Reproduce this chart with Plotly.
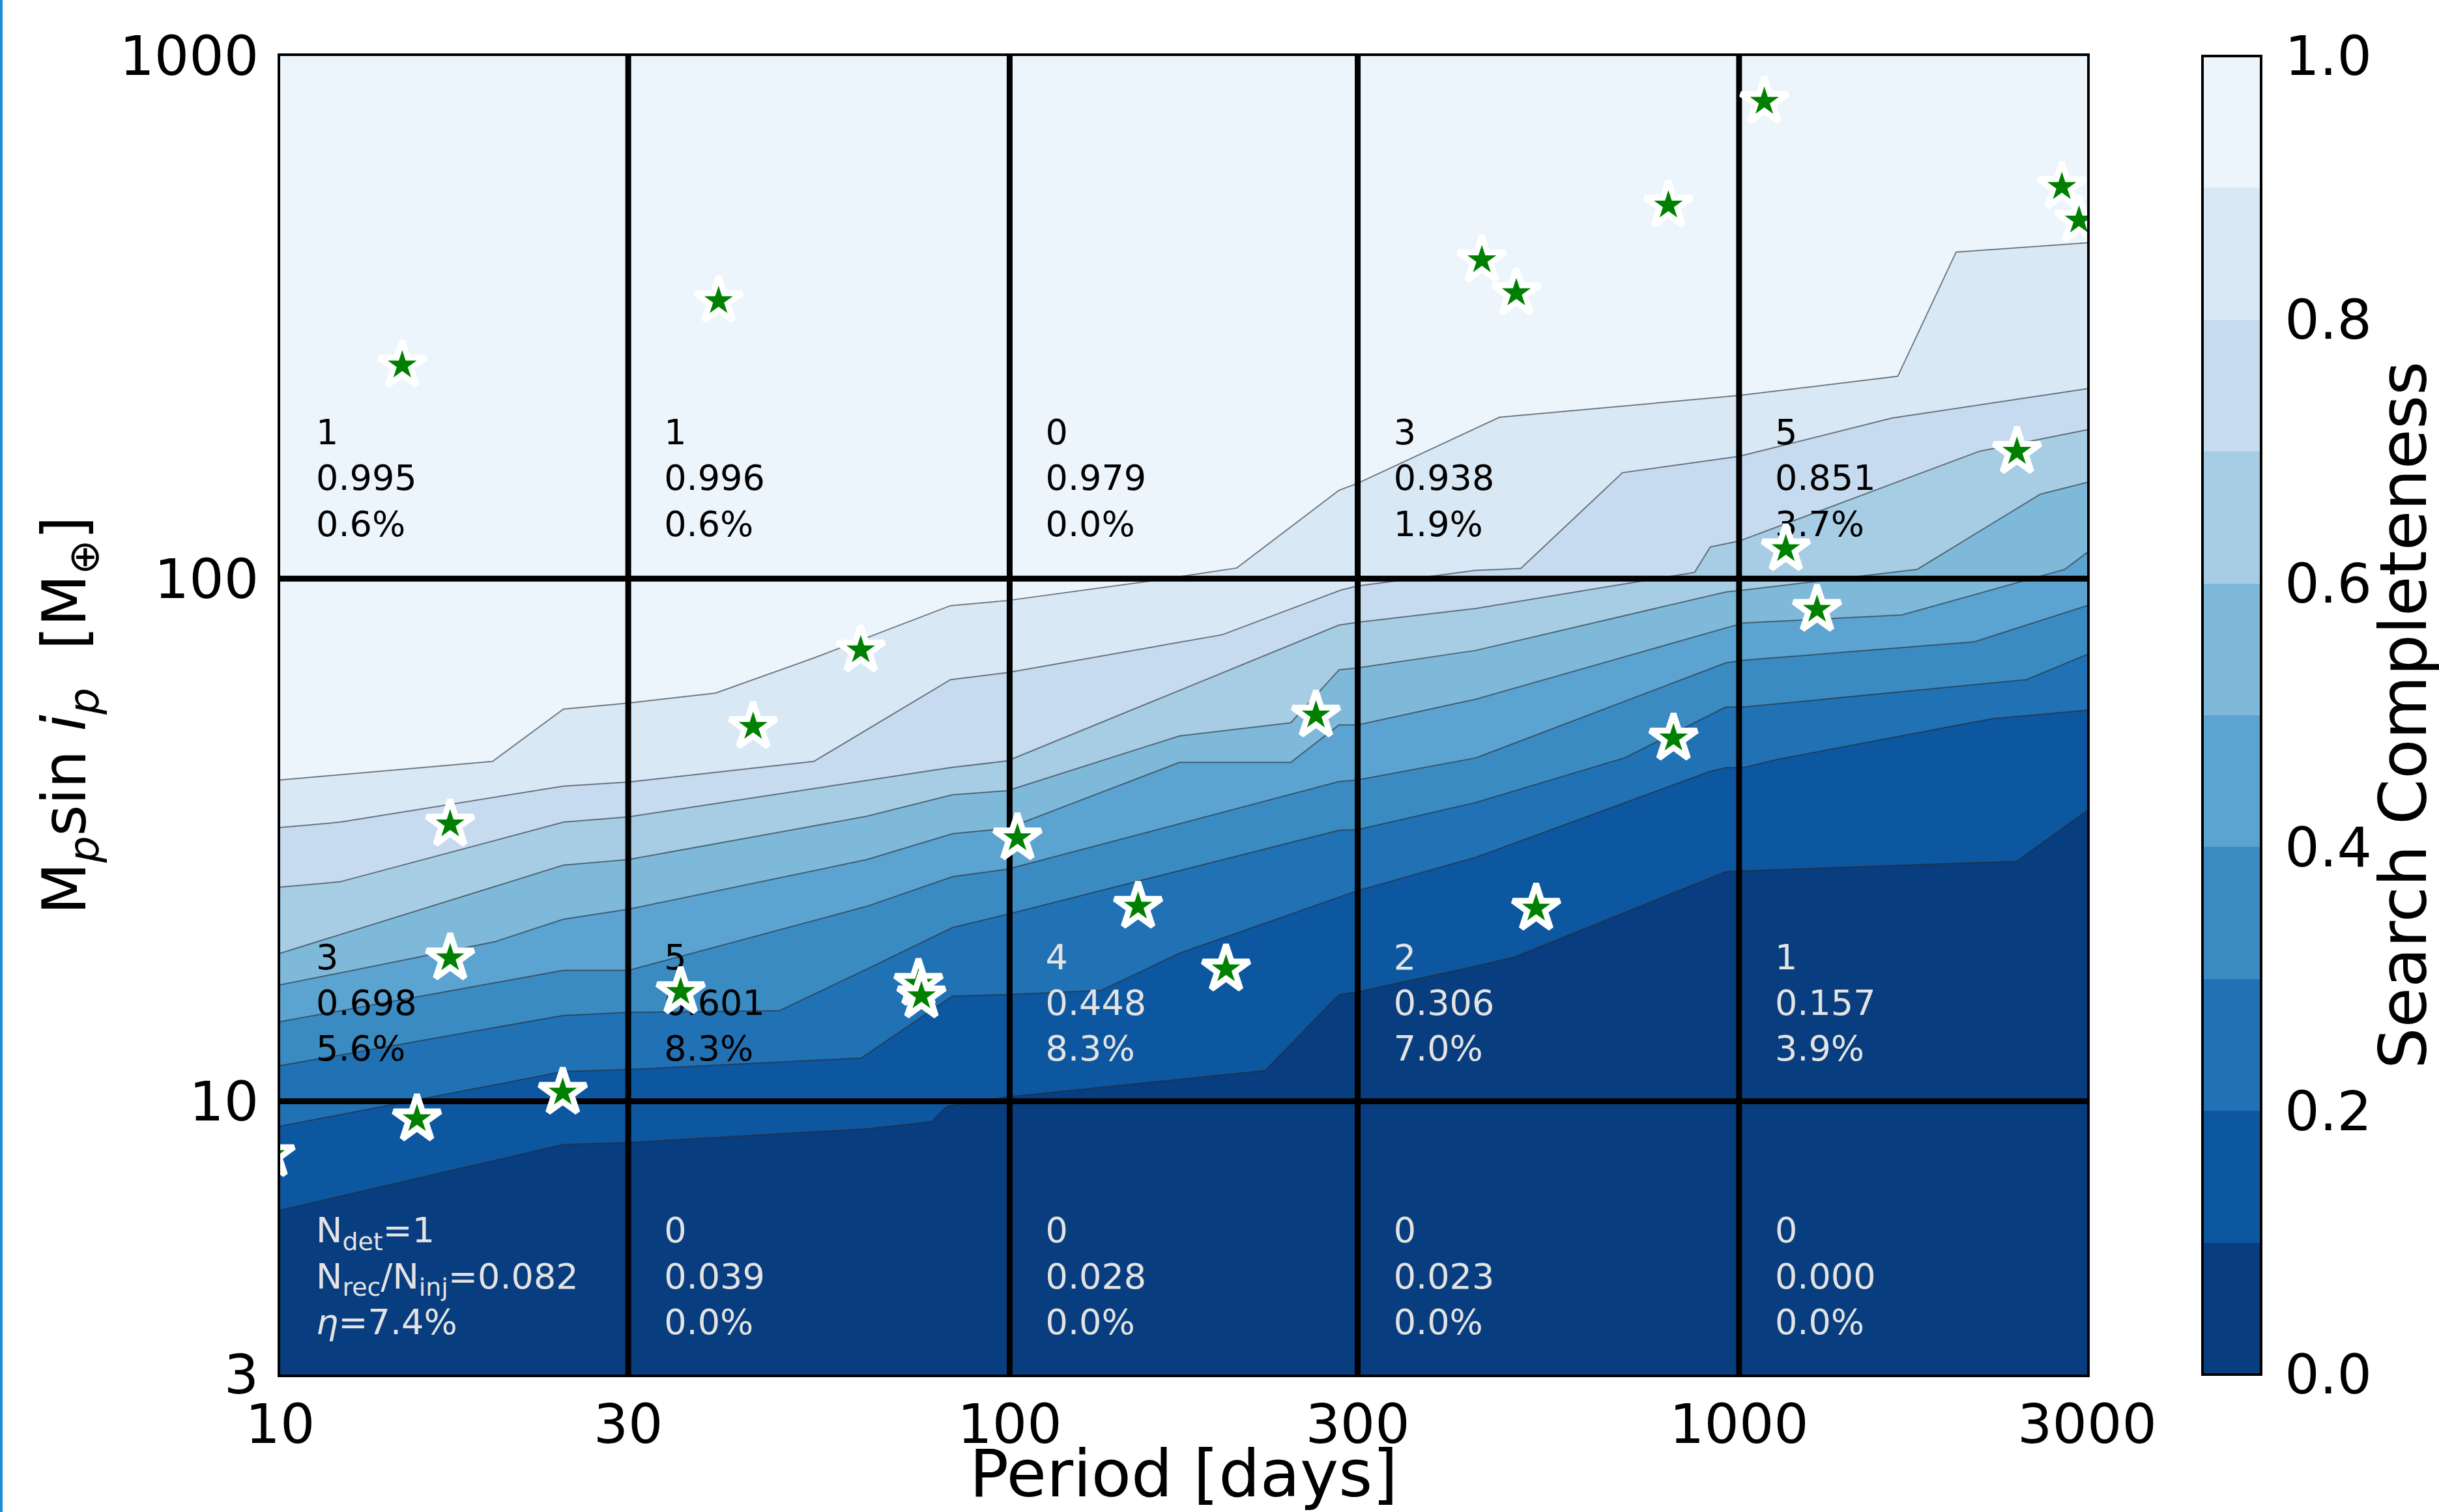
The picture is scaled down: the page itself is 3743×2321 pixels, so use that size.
import math
import plotly.graph_objects as go

# ---------------- data ----------------
period_bins = [10, 30, 100, 300, 1000, 3000]
mass_bins = [3, 10, 100, 1000]
completeness_levels = [0.0, 0.1, 0.2, 0.3, 0.4, 0.5, 0.6, 0.7, 0.8, 0.9, 1.0]
band_colors = ["#083D7F", "#0D57A1", "#2171B5", "#3B8BC3", "#5BA3D0",
               "#7FB9DA", "#A6CDE4", "#C6DBEF", "#D9E8F5", "#EDF5FC"]

# contour lines (period [days], mass [M_earth])
lvl_01_period = [10, 24.45, 30, 63.7, 78.1, 82.0, 99.3, 224, 282.8, 300, 440, 492.9, 959, 1014.6, 2403, 3000]
lvl_01_mass = [6.19, 8.27, 8.34, 8.86, 9.14, 9.78, 10.2, 11.45, 16.0, 16.2, 18.2, 18.9, 27.5, 27.6, 28.8, 36.0]

lvl_02_period = [10, 24.45, 30, 62.6, 83.5, 99.3, 133.5, 170.9, 300, 435.6, 913.3, 959, 1014.6, 1127, 2230, 3000]
lvl_02_mass = [8.96, 11.4, 11.5, 12.1, 15.9, 16.0, 16.3, 19.2, 25.3, 29.3, 42.8, 43.5, 43.5, 45.1, 54.0, 56.0]

lvl_03_period = [10, 24.45, 30, 48.3, 63.7, 83.5, 99.3, 282.8, 300, 435.6, 696.4, 959, 1014.6, 2477, 3000]
lvl_03_mass = [11.7, 14.6, 14.8, 14.9, 17.9, 21.5, 22.8, 33.0, 33.1, 37.3, 45.4, 56.8, 56.8, 64.1, 71.6]

lvl_04_period = [10, 24.45, 30, 63.7, 83.5, 99.3, 282.8, 300, 435.6, 959, 1014.6, 2101, 3000]
lvl_04_mass = [14.2, 17.8, 17.8, 23.6, 26.9, 27.8, 40.9, 41.2, 45.4, 69.0, 69.8, 75.7, 88.8]

lvl_05_period = [10, 19.7, 24.45, 30, 63.7, 83.5, 99.3, 170.9, 242.9, 282.8, 300, 435.6, 1014.6, 1671, 2797, 3000]
lvl_05_mass = [16.7, 20.2, 22.3, 23.3, 29.0, 32.5, 33.3, 44.5, 44.5, 52.5, 52.5, 58.8, 82.3, 85.2, 104.2, 112.2]

lvl_06_period = [10, 24.45, 30, 63.7, 83.5, 99.3, 170.9, 242.9, 282.8, 300, 435.6, 959, 1014.6, 1755, 2586, 3000]
lvl_06_mass = [19.2, 28.3, 29.0, 35.1, 38.6, 39.3, 50.0, 53.0, 66.9, 67.5, 72.9, 94.3, 95.1, 104.2, 145.0, 152.8]

lvl_07_period = [10, 12.08, 24.45, 30, 83.0, 99.3, 282.8, 300, 435.6, 869, 913, 1000, 2136, 3000]
lvl_07_mass = [25.7, 26.3, 34.2, 35.0, 43.5, 44.8, 81.5, 82.5, 87.7, 102.8, 115.0, 118.0, 175.3, 192.7]

lvl_08_period = [10, 12.08, 24.45, 30, 53.9, 83.0, 99.3, 195.6, 284.6, 300, 435.6, 502.1, 692.1, 1000, 1620, 3000]
lvl_08_mass = [33.4, 34.2, 40.1, 40.8, 44.7, 64.1, 66.1, 78.1, 95.1, 96.8, 103.7, 104.6, 159.5, 171.4, 202.9, 230.9]

lvl_09_period = [10, 19.55, 24.45, 30, 39.5, 53.9, 83.0, 99.3, 158.7, 204.8, 282.8, 300, 469.2, 1000, 1650, 1984, 3000]
lvl_09_mass = [41.2, 44.7, 56.3, 57.8, 60.4, 70.5, 88.8, 90.8, 99.3, 104.8, 147.6, 152.2, 203.6, 224.1, 243.9, 421.6, 439]

# detected planets
planet_period = [14.7, 39.9, 17.1, 17.1, 15.4, 24.4, 9.7, 35.4, 44.5, 62.5, 75.0, 75.7, 102.5,
                 150, 198, 263, 444, 495, 800, 527, 813, 1083, 1159, 1279, 2404, 2770, 2924]
planet_mass = [256, 340, 33.9, 18.8, 9.25, 10.4, 7.9, 16.2, 52.1, 73.0, 16.8, 15.9, 31.9,
               23.6, 17.9, 54.8, 407, 352, 518, 23.4, 49.5, 818, 114, 87.3, 175, 562, 485]

# per-cell statistics, rows from low mass to high mass
n_det = [[1, 0, 0, 0, 0],
         [3, 5, 4, 2, 1],
         [1, 1, 0, 3, 5]]
recovered_frac = [[0.082, 0.039, 0.028, 0.023, 0.000],
                  [0.698, 0.601, 0.448, 0.306, 0.157],
                  [0.995, 0.996, 0.979, 0.938, 0.851]]
occurrence_pct = [[7.4, 0.0, 0.0, 0.0, 0.0],
                  [5.6, 8.3, 8.3, 7.0, 3.9],
                  [0.6, 0.6, 0.0, 1.9, 3.7]]

# ---------------- figure ----------------
FONT = "DejaVu Sans"
W, H = 3743, 2321
ML, MR, MT, MB = 430, 540, 86, 211
PW, PH = W - ML - MR, H - MT - MB

contours = [
    (lvl_01_period, lvl_01_mass), (lvl_02_period, lvl_02_mass), (lvl_03_period, lvl_03_mass),
    (lvl_04_period, lvl_04_mass), (lvl_05_period, lvl_05_mass), (lvl_06_period, lvl_06_mass),
    (lvl_07_period, lvl_07_mass), (lvl_08_period, lvl_08_mass), (lvl_09_period, lvl_09_mass),
]

fig = go.Figure()

pmin, pmax = period_bins[0], period_bins[-1]
mmin, mmax = mass_bins[0], mass_bins[-1]

# lower boundary of the filled region
fig.add_trace(go.Scatter(x=[pmin, pmax], y=[mmin, mmin], mode="lines",
                         line=dict(width=0, color="rgba(0,0,0,0)"),
                         hoverinfo="skip", showlegend=False))
for i, (p, m) in enumerate(contours):
    fig.add_trace(go.Scatter(x=p, y=m, mode="lines",
                             line=dict(color="rgba(40,40,40,0.55)", width=2),
                             fill="tonexty", fillcolor=band_colors[i],
                             hoverinfo="skip", showlegend=False))
fig.add_trace(go.Scatter(x=[pmin, pmax], y=[mmax, mmax], mode="lines",
                         line=dict(width=0, color="rgba(0,0,0,0)"),
                         fill="tonexty", fillcolor=band_colors[-1],
                         hoverinfo="skip", showlegend=False))

# bin grid
for p in period_bins[1:-1]:
    fig.add_trace(go.Scatter(x=[p, p], y=[mmin, mmax], mode="lines",
                             line=dict(color="black", width=9),
                             hoverinfo="skip", showlegend=False))
for m in mass_bins[1:-1]:
    fig.add_trace(go.Scatter(x=[pmin, pmax], y=[m, m], mode="lines",
                             line=dict(color="black", width=9),
                             hoverinfo="skip", showlegend=False))

# cell texts
tx, ty, tt, tc = [], [], [], []
for r in range(len(mass_bins) - 1):
    for c in range(len(period_bins) - 1):
        x = period_bins[c] * 1.12
        y = mass_bins[r] * (1.52 if r < 2 else 1.535)
        if r == 0 and c == 0:
            s = ("N<sub>det</sub>=%d<br>N<sub>rec</sub>/N<sub>inj</sub>=%.3f<br><i>η</i>=%.1f%%"
                 % (n_det[r][c], recovered_frac[r][c], occurrence_pct[r][c]))
        else:
            s = "%d<br>%.3f<br>%.1f%%" % (n_det[r][c], recovered_frac[r][c], occurrence_pct[r][c])
        tx.append(x)
        ty.append(y)
        tt.append(s)
        tc.append("black" if recovered_frac[r][c] >= 0.5 else "#E3E3E3")
fig.add_trace(go.Scatter(x=tx, y=ty, text=tt, mode="text", textposition="middle right",
                         textfont=dict(family=FONT, size=54, color=tc),
                         hoverinfo="skip", showlegend=False))

# planets
fig.add_trace(go.Scatter(x=planet_period, y=planet_mass, mode="markers",
                         marker=dict(symbol="star", size=54, color="green",
                                     line=dict(color="white", width=9)),
                         hoverinfo="skip", showlegend=False))

# colorbar
CB_LEFT, CB_THICK = 3380, 90
cscale = []
for i, col in enumerate(band_colors):
    cscale.append([completeness_levels[i], col])
    cscale.append([completeness_levels[i + 1], col])
fig.add_trace(go.Scatter(
    x=[None], y=[None], mode="markers", hoverinfo="skip", showlegend=False,
    marker=dict(color=[0.5], cmin=0, cmax=1, colorscale=cscale, showscale=True,
                colorbar=dict(
                    x=(CB_LEFT - ML) / PW, xanchor="left", xref="paper",
                    y=0.5, yanchor="middle", len=1.0, lenmode="fraction",
                    thickness=CB_THICK, xpad=0, ypad=0,
                    outlinewidth=4, outlinecolor="black",
                    tickvals=completeness_levels[::2],
                    ticktext=["%.1f" % v for v in completeness_levels[::2]],
                    ticks="outside", ticklen=18, tickwidth=2, tickcolor="rgba(255,255,255,0)",
                    tickfont=dict(family=FONT, size=84, color="black"),
                ))))

# small inside ticks on the colour bar (as in the reference)
cb_x1 = (CB_LEFT + CB_THICK - ML) / PW
cb_x0 = cb_x1 - 14 / PW
cb_shapes = [dict(type="line", xref="paper", yref="paper", x0=cb_x0, x1=cb_x1, y0=v, y1=v,
                  line=dict(color="black", width=2), layer="above")
             for v in completeness_levels[2:-1:2]]

fig.update_layout(
    width=W, height=H,
    margin=dict(l=ML, r=MR, t=MT, b=MB, pad=0, autoexpand=False),
    paper_bgcolor="white", plot_bgcolor=band_colors[0],
    font=dict(family=FONT, color="black"),
    showlegend=False,
    xaxis=dict(type="log", range=[math.log10(pmin), math.log10(pmax)],
               tickvals=period_bins, ticktext=[str(v) for v in period_bins],
               tickfont=dict(family=FONT, size=84, color="black"),
               ticks="", showgrid=False, zeroline=False,
               showline=True, mirror=True, linecolor="black", linewidth=4,
               title=dict(text="Period [days]", font=dict(family=FONT, size=100, color="black"),
                          standoff=12)),
    yaxis=dict(type="log", range=[math.log10(mmin), math.log10(mmax)],
               tickvals=mass_bins, ticktext=[str(v) for v in mass_bins],
               tickfont=dict(family=FONT, size=84, color="black"),
               ticks="", ticklabelstandoff=12, showgrid=False, zeroline=False,
               showline=True, mirror=True, linecolor="black", linewidth=4,
               title=dict(text="M<sub><i>p</i></sub>sin <i>i</i><sub><i>p</i></sub>  [M<sub>⊕</sub>]",
                          font=dict(family=FONT, size=92, color="black"), standoff=22)),
    annotations=[dict(text="Search Completeness", textangle=-90, showarrow=False,
                      xref="paper", yref="paper", x=(3688 - ML) / PW, y=0.5,
                      xanchor="center", yanchor="middle",
                      font=dict(family=FONT, size=100, color="black"))],
    shapes=[dict(type="rect", xref="paper", yref="paper",
                 x0=-ML / PW, x1=(-ML + 4) / PW,
                 y0=-MB / PH, y1=(H - MB) / PH,
                 fillcolor="#1B8FD6", line=dict(width=0), layer="above")] + cb_shapes,
)

fig.write_html("out.html")
